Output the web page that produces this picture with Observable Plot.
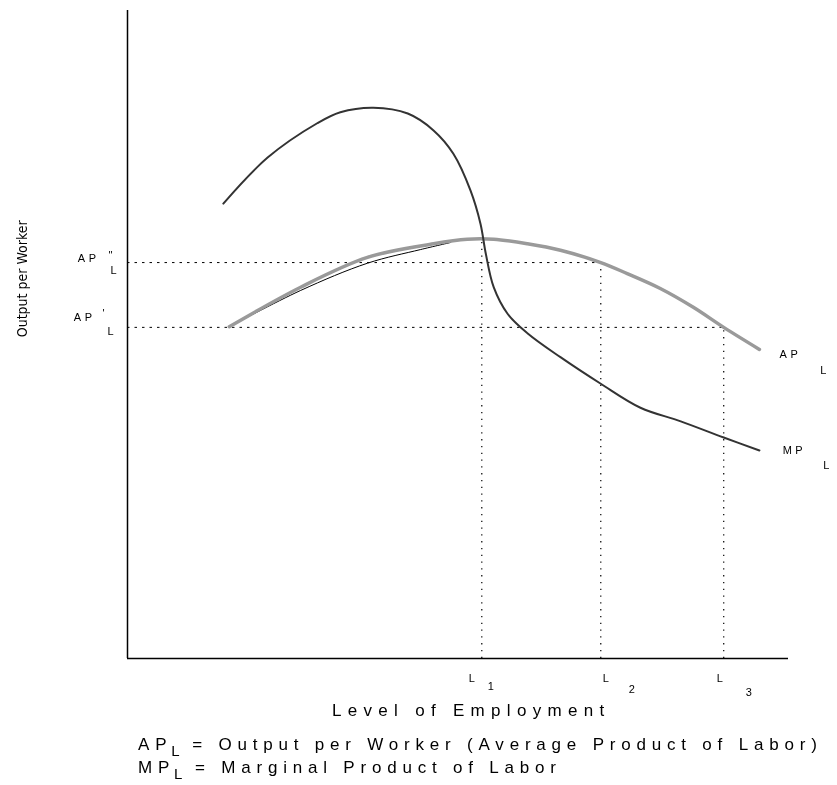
<!DOCTYPE html>
<html><head><meta charset="utf-8">
<script src="https://cdn.jsdelivr.net/npm/d3@7"></script>
<script src="https://cdn.jsdelivr.net/npm/@observablehq/plot@0.6"></script>
<style>
body{margin:0;background:#fff;}
#wrap{position:relative;width:837px;height:785px;background:#fff;filter:grayscale(1);overflow:hidden;}
#legend{position:absolute;left:138px;top:733px;font-family:"Liberation Sans",Arial,sans-serif;font-size:17px;letter-spacing:5.8px;line-height:23px;color:#000;white-space:nowrap;}
#legend .s{position:relative;top:6px;font-size:15px;line-height:15px;letter-spacing:0;margin-left:-1px;margin-right:2px;}
</style></head><body>
<div id="wrap"><div id="chart"></div>
<div id="legend"><div>AP<span class="s">L</span> = Output per Worker (Average Product of Labor)</div><div>MP<span class="s">L</span> = Marginal Product of Labor</div></div>
</div>
<script>
// Average product of labour (grey curve)
const apX = [15.4, 26.2, 36.3, 46.3, 51.4, 55.4, 60.5, 65.5, 71.6, 75.6, 80.6, 85.6, 90.2, 95.6];
const apY = [51.2, 57.3, 61.9, 64.0, 64.7, 64.7, 64.0, 63.0, 61.1, 59.4, 57.1, 54.2, 51.1, 47.7];
// thin black trace under the AP curve
const apTraceX = [15.4, 26.2, 36.3, 44.3, 48.9];
const apTraceY = [51.2, 56.8, 61.0, 63.1, 64.2];
// Marginal product of labour
const mpX = [14.5, 21.2, 28.7, 32.2, 37.2, 42.4, 46.3, 49.3, 51.9, 53.4, 54.2, 55.4, 57.5, 60.5, 65.5, 71.6, 77.6, 83.7, 90.2, 95.6];
const mpY = [70.2, 77.3, 82.6, 84.3, 85.0, 84.1, 81.5, 77.9, 72.2, 67.1, 62.5, 57.3, 53.2, 50.2, 46.5, 42.4, 38.7, 36.6, 34.1, 32.1];
// reference levels
const apLevels = [61.1, 51.1];      // AP'' , AP'
const apPrimes = ["''", "'"];
const lNames = ["1", "2", "3"];
const lValues = [53.6, 71.6, 90.2];
const apMax = 64.7;
const xTitle = "Level of Employment";
const yTitle = "Output per Worker";

const ap = apX.map((x, i) => ({x, y: apY[i]}));
const trace = apTraceX.map((x, i) => ({x, y: apTraceY[i]}));
const mp = mpX.map((x, i) => ({x, y: mpY[i]}));
const hRefs = [{y: apLevels[0], x2: lValues[1]}, {y: apLevels[1], x2: lValues[2]}];
const vRefs = [{x: lValues[0], y2: apMax}, {x: lValues[1], y2: apLevels[0]}, {x: lValues[2], y2: apLevels[1]}];
const apEnd = ap[ap.length - 1], mpEnd = mp[mp.length - 1];

const fs = 11;
const T = (data, o) => Plot.text(data, {fontSize: fs, ...o});
const chart = Plot.plot({
  width: 837, height: 730,
  marginLeft: 127, marginRight: 49, marginTop: 10, marginBottom: 72,
  x: {domain: [0, 100], axis: null},
  y: {domain: [0, 100], axis: null},
  style: {fontFamily: "'Liberation Sans', Arial, sans-serif", background: "#fff", color: "#000", overflow: "visible"},
  marks: [
    Plot.ruleY(hRefs, {y: "y", x1: 0, x2: "x2", stroke: "#000", strokeWidth: 1, strokeDasharray: "2.5,5"}),
    Plot.ruleX(vRefs, {x: "x", y1: 0, y2: "y2", stroke: "#000", strokeWidth: 1.2, strokeDasharray: "1.3,5.5"}),
    Plot.line(trace, {x: "x", y: "y", stroke: "#000", strokeWidth: 1, curve: "catmull-rom"}),
    Plot.line(ap, {x: "x", y: "y", stroke: "#9a9a9a", strokeWidth: 3.5, curve: "catmull-rom"}),
    Plot.line(mp, {x: "x", y: "y", stroke: "#333", strokeWidth: 2, curve: "catmull-rom"}),
    Plot.ruleX([0], {y1: 0, y2: 100, stroke: "#000", strokeWidth: 1.5}),
    Plot.ruleY([0], {x1: 0, x2: 100, stroke: "#000", strokeWidth: 1.5}),
    // left AP'' label
    T([apLevels[0]], {x: 0, y: d => d, text: () => "AP", textAnchor: "end", dx: -28, dy: -4, className: "sp"}),
    T([apLevels[0]], {x: 0, y: d => d, text: () => apPrimes[0], dx: -17, dy: -7}),
    T([apLevels[0]], {x: 0, y: d => d, text: () => "L", dx: -14, dy: 8}),
    // left AP' label
    T([apLevels[1]], {x: 0, y: d => d, text: () => "AP", textAnchor: "end", dx: -32, dy: -10, className: "sp"}),
    T([apLevels[1]], {x: 0, y: d => d, text: () => apPrimes[1], dx: -24, dy: -14}),
    T([apLevels[1]], {x: 0, y: d => d, text: () => "L", dx: -17, dy: 4}),
    // L1..L3
    T([lValues[0]], {x: d => d, y: 0, text: () => "L", dx: -10, dy: 20}),
    T([lValues[1]], {x: d => d, y: 0, text: () => "L", dx: 5, dy: 20}),
    T([lValues[2]], {x: d => d, y: 0, text: () => "L", dx: -4, dy: 20}),
    T([lValues[0]], {x: d => d, y: 0, text: () => lNames[0], dx: 9, dy: 28}),
    T([lValues[1]], {x: d => d, y: 0, text: () => lNames[1], dx: 31, dy: 31}),
    T([lValues[2]], {x: d => d, y: 0, text: () => lNames[2], dx: 25, dy: 34}),
    // curve labels
    T([apEnd], {x: "x", y: "y", text: () => "AP", dx: 31, dy: 5, className: "sp"}),
    T([apEnd], {x: "x", y: "y", text: () => "L", dx: 64, dy: 21}),
    T([mpEnd], {x: "x", y: "y", text: () => "MP", dx: 35, dy: 0, className: "sp"}),
    T([mpEnd], {x: "x", y: "y", text: () => "L", dx: 67, dy: 15}),
    // axis titles
    Plot.text([xTitle], {x: 52, frameAnchor: "bottom", dy: 57, fontSize: 17, className: "sp2"}),
    Plot.text([yTitle], {y: 58.6, frameAnchor: "left", textAnchor: "middle", dx: -105, rotate: -90, fontSize: 14, fontFamily: "'Liberation Sans Narrow', 'DejaVu Sans Condensed', sans-serif"})
  ]
});
d3.select(chart).selectAll(".sp text").style("letter-spacing", "3.5px");
d3.select(chart).selectAll(".sp2 text").style("letter-spacing", "6.3px");
document.getElementById("chart").appendChild(chart);
</script>
</body></html>
